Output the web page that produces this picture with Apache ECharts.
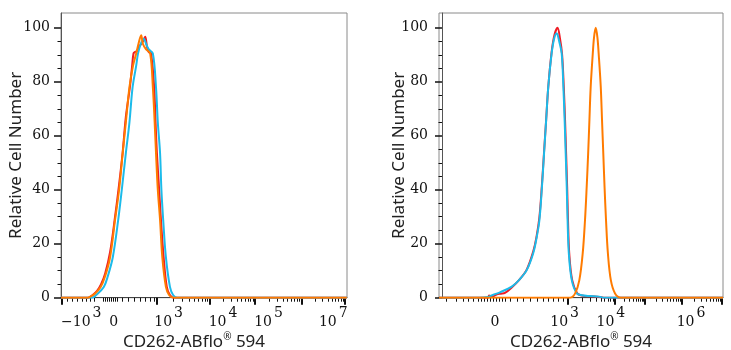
<!DOCTYPE html>
<html>
<head>
<meta charset="utf-8">
<script src="https://cdn.jsdelivr.net/npm/echarts@6/dist/echarts.min.js"></script>
<style>
  html, body { margin: 0; padding: 0; background: #fff; }
  #main { width: 731px; height: 350px; }
</style>
</head>
<body>
<div id="main"></div>
<script>
// x = position on the biexponential display scale (roughly decades), y = relative cell number
const leftRed = [[0.69,0],[1.29,0],[1.38,0.8],[1.49,2.5],[1.58,5],[1.67,9],[1.78,17],[1.89,30],[1.98,42],[2.06,54],[2.13,67],[2.22,78],[2.27,86],[2.3,90.5],[2.33,91],[2.38,91.5],[2.42,93],[2.47,94],[2.51,95],[2.56,96.7],[2.6,93],[2.64,91],[2.69,90.5],[2.76,78],[2.79,65],[2.82,53.6],[2.87,40],[2.91,28.8],[2.97,15],[3.04,4],[3.11,1],[3.2,0],[7.04,0]]
const leftCyan = [[0.69,0],[1.38,0],[1.47,1],[1.64,4],[1.73,8],[1.84,15],[1.96,28.8],[2.04,40],[2.13,53.6],[2.21,65],[2.28,78],[2.36,86],[2.4,90.5],[2.46,94],[2.5,95.4],[2.53,96],[2.58,94],[2.64,92],[2.73,90.5],[2.8,78],[2.84,65],[2.89,53.6],[2.92,40],[2.96,28.8],[3.02,15],[3.11,4],[3.18,1],[3.27,0],[7.04,0]]
const leftOrange = [[0.69,0],[1.29,0],[1.33,0.3],[1.44,1.5],[1.57,4],[1.67,8],[1.78,15],[1.89,28.8],[1.98,40],[2.06,53.6],[2.13,65],[2.21,78],[2.29,86],[2.36,90.5],[2.41,94],[2.47,97.3],[2.51,94],[2.58,92],[2.67,90.5],[2.73,78],[2.77,65],[2.8,53.6],[2.84,40],[2.89,28.8],[2.94,15],[3.02,4],[3.09,1],[3.18,0],[7.04,0]]

const rightRed = [[-0.07,0],[1.1,0],[1.12,0.8],[1.2,0.4],[1.3,1.2],[1.4,1.5],[1.5,1.8],[1.66,3.8],[1.86,7],[2.02,10.5],[2.17,17],[2.25,22.5],[2.32,30],[2.38,42],[2.43,54],[2.48,66],[2.53,78],[2.61,91],[2.68,97.5],[2.75,100],[2.81,96],[2.86,90],[2.9,78],[2.93,65.8],[2.955,53.5],[2.98,41],[3.0,28.8],[3.03,16.4],[3.1,6.5],[3.22,1.6],[3.33,0.8],[3.52,0.5],[3.74,0.3],[3.85,0],[6.69,0]]
const rightCyan = [[-0.07,0],[0.9,0],[1.12,0.4],[1.21,1.0],[1.38,2.0],[1.66,4.1],[1.86,7],[2.02,10.3],[2.17,16.4],[2.25,22],[2.32,28.8],[2.38,41.1],[2.43,53.5],[2.48,65.8],[2.53,78.1],[2.61,90.5],[2.67,96],[2.73,98],[2.79,95],[2.85,90.5],[2.89,78.1],[2.92,65.8],[2.945,53.5],[2.97,41.1],[2.99,28.8],[3.02,16.4],[3.09,6.5],[3.21,1.6],[3.33,0.9],[3.52,0.6],[3.74,0.4],[3.85,0],[6.69,0]]
const rightOrange = [[-0.07,0],[3.05,0],[3.17,1.6],[3.27,6.5],[3.35,16.4],[3.405,28.8],[3.445,41.1],[3.48,53.5],[3.51,65.8],[3.54,78.1],[3.59,90.5],[3.62,96.5],[3.66,100],[3.7,96.5],[3.73,90.5],[3.78,78.1],[3.81,65.8],[3.84,53.5],[3.87,41.1],[3.905,28.8],[3.95,16.4],[4.02,6.5],[4.12,1.6],[4.26,0],[6.69,0]]

// axis ticks and labels
const yMajor = [0, 20, 40, 60, 80, 100]
const yMinor = [5, 10, 15, 25, 30, 35, 45, 50, 55, 65, 70, 75, 85, 90, 95]

const leftDecades = [2.82, 4, 5, 6.04, 7.0]
const leftLinearTicks = [0.822, 0.933, 1.044, 1.156, 1.244, 1.333, 1.422, 1.622, 1.667, 1.711, 1.756, 1.8, 1.844, 1.889, 1.933, 2.044, 2.178, 2.311, 2.444, 2.556, 2.667, 2.756]
const leftLabelPos = [1.14, 1.86, 3.08, 4.29, 5.3, 6.74]
const leftLabelBase = ['−10', '0', '10', '10', '10', '10']
const leftLabelExp = ['3', '', '3', '4', '5', '7']

const rightDecades = [3, 4.12, 4.83, 5.71, 6.67]
const rightLinearTicks = [0.112, 0.35, 0.5, 0.619, 0.738, 0.857, 0.929, 1.0, 1.071, 1.143, 1.214, 1.286, 1.357, 1.429, 1.5, 1.619, 1.786, 1.929, 2.095, 2.262, 2.405, 2.524, 2.643, 2.762, 2.881]
const rightLabelPos = [1.26, 2.92, 4.02, 5.93]
const rightLabelBase = ['0', '10', '10', '10']
const rightLabelExp = ['', '3', '4', '6']

const red = '#ee1c25'
const cyan = '#1cbbea'
const orange = '#ff7b00'

const serif = 'DejaVu Serif'
const sans = 'Noto Sans'
const ink = '#111'

const logMinors = (majors) => {
  const out = []
  for (let i = 0; i < majors.length - 1; i++) {
    const a = majors[i], b = majors[i + 1]
    for (let k = 2; k <= 9; k++) out.push(a + (b - a) * Math.log10(k))
  }
  return out
}

const xAxes = (gi, min, max, majors, minors, pos, base, exp, shift) => [
  {
    type: 'value', gridIndex: gi, position: 'bottom', offset: 0, min, max,
    splitLine: { show: false },
    axisLine: { lineStyle: { color: '#444', width: 1 } },
    axisTick: { customValues: majors, length: 7, lineStyle: { color: ink, width: 2 } },
    axisLabel: {
      customValues: pos,
      margin: 9,
      formatter: (v) => {
        const i = pos.findIndex(p => Math.abs(p - v) < 1e-6)
        if (i < 0) return ''
        return '{b|' + base[i] + '}' + (exp[i] ? '{s|' + exp[i] + '}' : '')
      },
      rich: {
        b: { fontFamily: serif, fontSize: 14, lineHeight: 23, color: ink, verticalAlign: 'bottom', padding: [9, 0, 0, 0] },
        s: { fontFamily: serif, fontSize: 14, lineHeight: 14, color: ink, verticalAlign: 'top', padding: [0, 0, 0, 2] }
      }
    },
    name: '{n|CD262-ABflo}{r|®}{n| 594}',
    nameLocation: 'middle',
    nameGap: 34,
    nameMoveOverlap: false,
    nameTextStyle: {
      padding: [0, shift, 0, 0],
      rich: {
        n: { fontFamily: sans, fontSize: 17, lineHeight: 20, color: '#222' },
        r: { fontFamily: sans, fontSize: 10, lineHeight: 10, color: '#222', verticalAlign: 'top' }
      }
    }
  },
  {
    type: 'value', gridIndex: gi, position: 'bottom', offset: 0, min, max,
    splitLine: { show: false },
    axisLine: { show: false },
    axisLabel: { show: false },
    axisTick: { customValues: minors, length: 4, lineStyle: { color: ink, width: 1 } }
  }
]

const yAxes = (gi, gap) => [
  {
    type: 'value', gridIndex: gi, position: 'left', min: 0, max: 105.5,
    splitLine: { show: false },
    axisLine: { show: true, lineStyle: { color: '#555', width: 1 } },
    axisTick: { show: true, customValues: yMajor, length: 7, lineStyle: { color: ink, width: 1.5 } },
    axisLabel: { customValues: yMajor, margin: 11, fontFamily: serif, fontSize: 14, color: ink },
    name: 'Relative Cell Number',
    nameLocation: 'middle',
    nameGap: gap,
    nameMoveOverlap: false,
    nameTextStyle: { fontFamily: sans, fontSize: 17, color: '#222' }
  },
  {
    type: 'value', gridIndex: gi, position: 'left', offset: 0, min: 0, max: 105.5,
    splitLine: { show: false },
    axisLine: { show: false },
    axisLabel: { show: false },
    axisTick: { show: true, customValues: yMinor, length: 3.5, lineStyle: { color: ink, width: 1 } }
  }
]

const line = (name, data, color, xi, yi) => ({
  name, type: 'line', data, xAxisIndex: xi, yAxisIndex: yi,
  showSymbol: false, smooth: 0.35,
  lineStyle: { color, width: 2 }, itemStyle: { color },
  silent: true, animation: false
})

const chart = echarts.init(document.getElementById('main'))
chart.setOption({
  backgroundColor: '#fff',
  animation: false,
  grid: [
    { left: 61, right: 384, top: 13, bottom: 52.3, outerBoundsMode: 'none', show: true, borderColor: '#8a8a8a', borderWidth: 1 },
    { left: 439, right: 8, top: 13, bottom: 52.3, outerBoundsMode: 'none', show: true, borderColor: '#8a8a8a', borderWidth: 1 }
  ],
  xAxis: [
    ...xAxes(0, 0.689, 7.044, [0.71, ...leftDecades], [...leftLinearTicks, ...logMinors(leftDecades)], leftLabelPos, leftLabelBase, leftLabelExp, 20),
    ...xAxes(1, -0.071, 6.69, rightDecades, [...rightLinearTicks, ...logMinors(rightDecades)], rightLabelPos, rightLabelBase, rightLabelExp, 0)
  ],
  yAxis: [...yAxes(0, 36), ...yAxes(1, 31)],
  series: [
    line('red', leftRed, red, 0, 0),
    line('cyan', leftCyan, cyan, 0, 0),
    line('orange', leftOrange, orange, 0, 0),
    line('red', rightRed, red, 2, 2),
    line('cyan', rightCyan, cyan, 2, 2),
    line('orange', rightOrange, orange, 2, 2)
  ]
})
</script>
</body>
</html>
